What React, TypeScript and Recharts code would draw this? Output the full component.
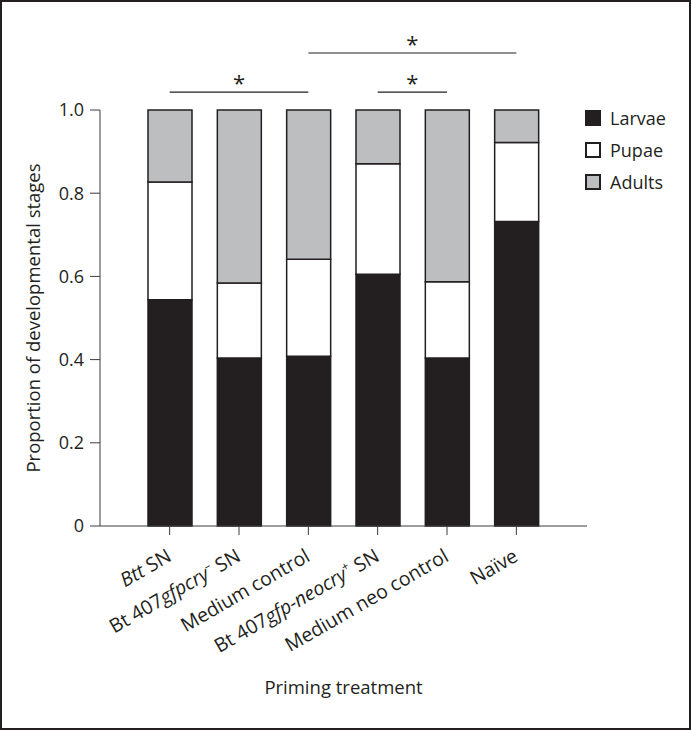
import React from "react"
import { BarChart, Bar, XAxis, YAxis, Legend, ReferenceLine } from "recharts"

const categories = ["Btt SN", "Bt 407gfpcry− SN", "Medium control", "Bt 407gfp-neocry+ SN", "Medium neo control", "Naïve"]
const larvae = [0.544, 0.404, 0.408, 0.605, 0.404, 0.732]
const pupae = [0.283, 0.18, 0.233, 0.266, 0.183, 0.19]
const adults = [0.173, 0.416, 0.359, 0.129, 0.413, 0.078]
const yTicks = [0, 0.2, 0.4, 0.6, 0.8, 1.0]

// significance brackets: [from, to, height]
const brackets: [string, string, number][] = [
  ["Btt SN", "Medium control", 1.043],
  ["Bt 407gfp-neocry+ SN", "Medium neo control", 1.043],
  ["Medium control", "Naïve", 1.137],
]

// rich tick text: [text, style] where style is "i" italic, "sup" superscript, "" plain
const tickParts: Record<string, [string, string][]> = {
  "Btt SN": [["Btt", "i"], [" SN", ""]],
  "Bt 407gfpcry− SN": [["Bt 407", ""], ["gfpcry", "i"], ["–", "sup"], [" SN", ""]],
  "Medium control": [["Medium control", ""]],
  "Bt 407gfp-neocry+ SN": [["Bt 407", ""], ["gfp-neocry", "i"], ["+", "sup"], [" SN", ""]],
  "Medium neo control": [["Medium neo control", ""]],
  "Naïve": [["Naïve", ""]],
}

const data = categories.map((name, i) => ({ name, larvae: larvae[i], pupae: pupae[i], adults: adults[i] }))

const INK = "#231f20"
const FONT = "'Open Sans', 'Noto Sans', sans-serif"
const TICK_FS = 19.5

function XTick(props: any) {
  const { x, y, payload } = props
  const parts = tickParts[payload.value] ?? [[payload.value, ""]]
  const tx = x + 3
  const ty = y + 23
  let shifted = false
  return (
    <text x={tx} y={ty} transform={`rotate(-30 ${tx} ${ty})`} textAnchor="end" fill={INK} fontSize={TICK_FS} fontFamily={FONT}>
      {parts.map(([t, s], i) => {
        let dy: number | undefined
        if (s === "sup") {
          dy = -8
          shifted = true
        } else if (shifted) {
          dy = 8
          shifted = false
        }
        return (
          <tspan key={i} dy={dy} fontStyle={s === "i" ? "italic" : "normal"} fontSize={s === "sup" ? 12 : TICK_FS}>
            {t}
          </tspan>
        )
      })}
    </text>
  )
}

const legendItems = [
  { label: "Larvae", fill: INK },
  { label: "Pupae", fill: "#ffffff" },
  { label: "Adults", fill: "#bcbec0" },
]

function LegendBox() {
  return (
    <div style={{ fontFamily: FONT, fontSize: 18, color: INK }}>
      {legendItems.map((it) => (
        <div key={it.label} style={{ display: "flex", alignItems: "center", height: 32 }}>
          <span
            style={{
              display: "inline-block",
              width: 12,
              height: 12,
              background: it.fill,
              border: `2px solid ${INK}`,
              marginRight: 9,
            }}
          />
          {it.label}
        </div>
      ))}
    </div>
  )
}

export default function App() {
  return (
    <div style={{ position: "absolute", left: 0, top: 0, width: 691, height: 730, background: "#fff" }}>
      <BarChart width={691} height={730} data={data} margin={{ top: 110, right: 104, left: 0, bottom: 0 }} barSize={44}>
        <XAxis
          dataKey="name"
          height={204}
          padding={{ left: 35, right: 36 }}
          tick={<XTick />}
          tickSize={9}
          stroke="#3c3c3c"
          interval={0}
          label={{
            content: (p: any) => {
              const vb = p.viewBox
              return (
                <text x={vb.x + vb.width / 2} y={694} textAnchor="middle" fill={INK} fontSize={18.5} fontFamily={FONT}>
                  Priming treatment
                </text>
              )
            },
          }}
        />
        <YAxis
          width={100}
          domain={[0, 1]}
          ticks={yTicks}
          tickFormatter={(v: number) => (v === 0 ? "0" : v.toFixed(1))}
          tickSize={10}
          tickMargin={6}
          stroke="#3c3c3c"
          tick={{ fill: INK, fontSize: 18, fontFamily: FONT }}
          label={{
            content: (p: any) => {
              const vb = p.viewBox
              const cy = vb.y + vb.height / 2
              return (
                <text x={32} y={cy} transform={`rotate(-90 32 ${cy})`} textAnchor="middle" dominantBaseline="central" fill={INK} fontSize={18.5} fontFamily={FONT}>
                  Proportion of developmental stages
                </text>
              )
            },
          }}
        />
        <Legend layout="vertical" align="center" verticalAlign="middle" wrapperStyle={{ left: 585, top: 102, width: 110 }} content={() => <LegendBox />} />
        <Bar dataKey="larvae" stackId="a" fill={INK} stroke={INK} strokeWidth={1.5} isAnimationActive={false} />
        <Bar dataKey="pupae" stackId="a" fill="#ffffff" stroke={INK} strokeWidth={1.5} isAnimationActive={false} />
        <Bar dataKey="adults" stackId="a" fill="#bcbec0" stroke={INK} strokeWidth={1.5} isAnimationActive={false} />
        {brackets.map(([a, b, h]) => (
          <ReferenceLine
            key={a + b}
            segment={[{ x: a, y: h }, { x: b, y: h }]}
            stroke={INK}
            strokeWidth={1.2}
            ifOverflow="visible"
            label={{ value: "*", position: "top", offset: 1, fill: INK, fontSize: 22, fontFamily: FONT }}
          />
        ))}
      </BarChart>
      <div style={{ position: "absolute", inset: 0, border: `2px solid ${INK}`, pointerEvents: "none" }} />
    </div>
  )
}
